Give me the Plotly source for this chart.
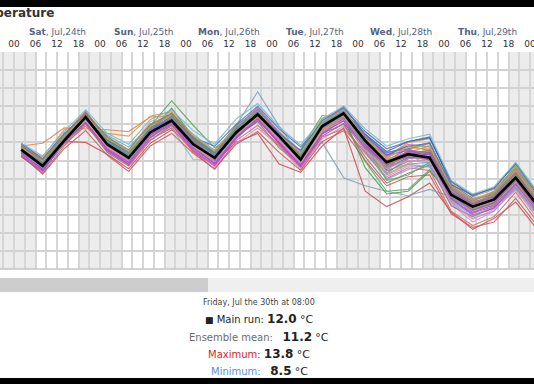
import plotly.graph_objects as go

W, H = 534, 384
PLOT_TOP, PLOT_BOT = 52, 269

# ---------------- data ----------------
times = ["2021-07-24 02:00", "2021-07-24 08:00", "2021-07-24 14:00", "2021-07-24 20:00",
         "2021-07-25 02:00", "2021-07-25 08:00", "2021-07-25 14:00", "2021-07-25 20:00",
         "2021-07-26 02:00", "2021-07-26 08:00", "2021-07-26 14:00", "2021-07-26 20:00",
         "2021-07-27 02:00", "2021-07-27 08:00", "2021-07-27 14:00", "2021-07-27 20:00",
         "2021-07-28 02:00", "2021-07-28 08:00", "2021-07-28 14:00", "2021-07-28 20:00",
         "2021-07-29 02:00", "2021-07-29 08:00", "2021-07-29 14:00", "2021-07-29 20:00",
         "2021-07-30 02:00", "2021-07-30 08:00"]

main_run = [17.2, 15.4, 18.2, 20.8, 17.8, 16.3, 19.1, 20.4, 17.8, 16.3, 19.1, 21.1, 18.7, 16.1,
            19.8, 21.2, 18.2, 15.8, 16.7, 16.3, 12.2, 10.9, 11.7, 14.1, 11.1, 12.0]

ens_01 = [17.6, 17.9, 19.6, 19.5, 19.4, 19.2, 20.8, 21.0, 18.3, 17.2, 19.6, 20.6, 18.9, 16.8, 19.4, 20.7, 17.6, 15.1, 17.2, 17.9, 13.1, 11.6, 12.4, 14.6, 11.8, 12.6]
ens_02 = [17.4, 16.4, 19.4, 20.2, 19.0, 18.7, 20.9, 21.4, 18.7, 16.9, 19.3, 21.0, 18.2, 16.2, 19.0, 20.9, 18.9, 16.4, 18.0, 18.4, 13.6, 12.0, 12.8, 15.2, 12.3, 13.1]
ens_03 = [16.9, 15.2, 18.1, 18.0, 16.7, 15.1, 17.9, 19.4, 17.4, 15.9, 18.0, 19.0, 15.6, 14.7, 17.6, 19.6, 12.6, 10.9, 12.0, 13.5, 10.3, 8.4, 9.6, 11.4, 8.4, 8.5]
ens_04 = [17.0, 15.6, 18.6, 21.0, 17.9, 16.7, 19.8, 22.6, 19.9, 17.4, 18.9, 20.5, 18.3, 17.2, 21.0, 20.5, 15.9, 12.6, 12.8, 15.0, 11.8, 10.5, 11.2, 13.3, 10.9, 11.6]
ens_05 = [16.7, 15.0, 18.4, 21.3, 18.0, 16.1, 18.8, 20.0, 17.4, 16.1, 19.9, 23.6, 19.8, 16.5, 18.0, 14.1, 13.2, 12.6, 12.1, 12.8, 12.0, 10.6, 11.0, 12.8, 10.0, 11.0]
ens_06 = [17.3, 15.5, 18.7, 21.4, 18.6, 17.0, 18.5, 19.6, 16.1, 16.0, 19.3, 21.5, 19.2, 17.0, 19.5, 21.7, 18.5, 15.4, 16.0, 15.8, 11.6, 10.1, 11.3, 13.5, 10.5, 11.3]
ens_07 = [17.5, 15.8, 18.9, 21.2, 17.5, 16.1, 19.3, 20.9, 18.1, 16.6, 19.5, 21.5, 18.5, 15.8, 19.2, 20.4, 17.0, 14.6, 16.2, 16.8, 12.5, 11.2, 12.0, 14.5, 11.4, 12.3]
ens_08 = [16.6, 14.9, 17.9, 20.3, 17.2, 15.6, 18.8, 20.1, 17.0, 15.4, 18.4, 20.7, 17.9, 15.3, 18.7, 20.1, 17.5, 16.0, 17.3, 16.0, 12.1, 10.3, 11.1, 13.6, 10.8, 11.7]
ens_09 = [17.8, 15.9, 18.4, 20.5, 18.3, 16.8, 19.6, 20.8, 18.5, 17.6, 20.0, 22.0, 19.5, 17.5, 20.1, 21.8, 19.2, 17.3, 18.1, 18.6, 13.4, 11.8, 12.2, 15.0, 12.0, 12.9]
ens_10 = [16.8, 15.1, 18.0, 20.0, 17.0, 15.8, 18.6, 19.8, 17.3, 15.3, 17.9, 19.6, 17.6, 15.0, 18.4, 19.8, 16.8, 14.2, 15.4, 15.3, 11.2, 9.2, 10.4, 12.9, 9.6, 10.5]
ens_11 = [17.1, 15.3, 18.8, 21.5, 18.1, 16.5, 19.0, 20.7, 18.4, 16.9, 19.4, 21.2, 19.0, 16.9, 20.7, 21.5, 18.7, 15.6, 16.5, 17.0, 12.8, 11.5, 12.5, 14.9, 11.5, 12.4]
ens_12 = [17.7, 16.0, 18.5, 20.6, 18.8, 17.5, 19.9, 21.1, 18.9, 17.1, 19.8, 21.8, 19.1, 16.6, 20.3, 21.0, 18.0, 14.9, 15.6, 15.8, 11.9, 10.4, 11.6, 14.0, 11.0, 11.8]
ens_13 = [16.5, 14.6, 17.6, 20.1, 16.9, 15.4, 18.2, 19.9, 17.2, 15.7, 18.7, 20.3, 17.4, 15.5, 19.0, 20.0, 16.4, 13.5, 14.6, 15.5, 11.0, 9.8, 10.8, 13.0, 10.2, 10.9]
ens_14 = [17.0, 15.3, 18.3, 20.7, 17.6, 16.0, 19.2, 21.8, 18.6, 16.5, 19.7, 21.6, 18.4, 16.3, 20.2, 20.8, 15.2, 12.3, 12.6, 14.8, 12.4, 11.0, 11.5, 13.8, 10.6, 11.4]
ens_15 = [17.3, 15.6, 18.1, 20.4, 17.7, 15.9, 18.9, 20.2, 17.9, 16.2, 18.8, 20.9, 18.1, 16.0, 19.6, 20.8, 18.4, 16.8, 17.6, 17.1, 13.0, 11.4, 12.1, 14.7, 11.3, 12.2]
ens_16 = [17.9, 16.2, 19.0, 21.0, 18.2, 16.6, 19.4, 20.6, 18.2, 16.8, 19.2, 20.8, 18.8, 16.4, 19.3, 21.4, 18.9, 17.0, 18.1, 18.5, 13.7, 12.1, 13.0, 15.6, 12.2, 13.4]
ens_17 = [16.4, 14.8, 18.0, 20.6, 17.1, 15.5, 18.5, 20.3, 17.6, 15.6, 18.6, 20.4, 18.0, 15.4, 19.1, 21.0, 17.8, 15.5, 16.9, 16.6, 11.8, 10.0, 10.7, 13.4, 10.5, 11.2]
ens_18 = [17.4, 15.0, 18.5, 21.2, 18.4, 16.9, 19.5, 20.5, 18.0, 16.4, 19.0, 20.9, 18.6, 15.7, 19.5, 21.3, 17.3, 14.8, 15.9, 16.1, 12.3, 10.8, 11.8, 14.3, 11.2, 11.9]
ens_19 = [17.2, 15.7, 18.9, 20.9, 18.5, 17.1, 20.3, 21.3, 18.8, 16.9, 19.7, 21.4, 19.3, 16.7, 19.9, 21.5, 18.6, 16.3, 17.4, 17.3, 13.3, 11.7, 12.6, 15.3, 11.9, 12.8]
ens_20 = [16.9, 15.2, 17.8, 19.8, 17.4, 15.7, 18.3, 19.6, 17.0, 15.0, 18.2, 19.9, 17.7, 15.2, 18.6, 19.5, 16.9, 14.0, 15.2, 14.9, 10.4, 8.8, 9.8, 12.5, 9.2, 10.0]
ens_21 = [17.6, 15.9, 18.6, 20.9, 17.9, 16.4, 19.4, 20.7, 18.2, 16.0, 19.1, 21.2, 18.9, 16.2, 20.0, 21.1, 17.9, 15.2, 16.3, 16.8, 12.6, 11.1, 11.9, 14.4, 11.1, 12.1]
ens_22 = [16.8, 15.4, 18.2, 20.4, 17.3, 16.2, 19.0, 20.3, 17.5, 16.2, 18.9, 20.6, 18.3, 15.9, 19.1, 20.6, 17.2, 13.9, 15.0, 15.6, 11.4, 9.6, 10.4, 13.2, 10.1, 10.8]
ens_23 = [17.5, 15.6, 18.4, 21.1, 18.7, 16.8, 19.7, 21.0, 18.7, 16.7, 19.6, 21.3, 18.7, 16.5, 19.8, 21.6, 18.3, 15.9, 17.0, 16.9, 12.7, 11.3, 12.3, 15.5, 11.7, 12.5]
ens_24 = [17.0, 15.5, 18.5, 20.6, 17.6, 16.0, 18.7, 20.0, 17.7, 16.3, 19.3, 21.0, 18.4, 16.0, 19.6, 21.0, 17.7, 15.0, 16.4, 16.2, 12.0, 10.5, 11.4, 13.7, 10.7, 11.5]
ens_25 = [16.7, 15.0, 18.2, 20.3, 17.5, 16.0, 18.9, 20.1, 17.4, 15.8, 18.8, 20.5, 18.2, 15.6, 19.4, 20.7, 18.0, 16.2, 16.8, 16.5, 11.9, 10.6, 11.5, 14.2, 10.9, 11.8]
ens_26 = [17.3, 15.9, 18.7, 20.7, 18.0, 16.6, 19.2, 20.8, 18.3, 16.7, 19.7, 21.3, 18.6, 16.6, 20.5, 21.3, 18.5, 16.1, 16.9, 17.6, 13.2, 11.5, 12.6, 15.4, 12.1, 13.0]
ens_27 = [16.9, 15.1, 18.3, 20.9, 17.8, 16.5, 19.3, 20.5, 17.9, 16.5, 19.4, 21.7, 18.9, 16.3, 19.7, 21.0, 17.4, 14.4, 15.6, 15.3, 11.5, 9.9, 10.9, 13.1, 10.3, 11.1]
ens_28 = [17.1, 15.4, 18.6, 21.4, 18.2, 16.2, 19.5, 21.2, 18.5, 16.6, 19.5, 21.9, 19.1, 16.8, 20.1, 22.0, 18.8, 16.5, 17.8, 17.5, 12.9, 11.3, 12.2, 14.8, 11.6, 12.5]
ens_29 = [17.6, 15.7, 18.4, 20.2, 17.6, 16.4, 19.0, 20.6, 18.1, 16.3, 18.9, 20.9, 18.5, 15.9, 19.2, 20.6, 17.2, 15.3, 16.6, 16.4, 12.0, 10.7, 11.3, 14.0, 11.0, 11.6]
ens_30 = [17.4, 15.8, 18.8, 21.1, 18.3, 16.9, 19.6, 21.2, 18.6, 16.8, 19.9, 21.4, 19.0, 17.1, 20.4, 21.9, 18.9, 16.6, 17.6, 17.9, 13.3, 12.2, 12.9, 15.7, 12.5, 13.8]
ens_31 = [17.9, 16.5, 19.2, 21.6, 19.0, 17.8, 20.5, 21.6, 19.3, 17.8, 20.6, 22.3, 19.7, 17.7, 20.6, 22.0, 19.5, 17.6, 18.4, 18.9, 13.8, 12.3, 13.1, 15.8, 12.6, 13.5]
ens_32 = [16.6, 14.5, 17.3, 19.3, 16.6, 14.8, 17.6, 19.0, 16.8, 15.1, 17.8, 19.2, 16.9, 14.9, 18.1, 19.3, 16.0, 13.2, 14.2, 14.4, 10.1, 8.6, 9.2, 11.8, 8.8, 9.4]
ens_33 = [17.0, 15.4, 18.4, 20.5, 17.9, 16.4, 19.4, 20.6, 18.0, 16.0, 19.0, 20.8, 18.4, 15.9, 19.6, 21.4, 18.1, 16.6, 17.1, 16.9, 12.4, 10.9, 11.6, 14.3, 11.1, 12.0]
ens_34 = [17.5, 15.5, 18.3, 20.4, 17.5, 16.2, 19.0, 20.1, 17.6, 16.1, 19.1, 20.7, 18.2, 15.9, 19.3, 20.9, 17.3, 14.5, 15.7, 16.6, 12.2, 10.4, 11.2, 13.6, 10.6, 11.5]
ens_35 = [17.2, 15.6, 18.5, 20.9, 18.1, 16.6, 19.9, 21.1, 18.3, 16.7, 19.6, 21.2, 18.9, 16.6, 20.3, 21.2, 17.8, 13.8, 14.4, 15.8, 11.9, 10.7, 11.7, 14.4, 11.2, 12.1]
ens_36 = [16.9, 15.0, 18.0, 20.2, 17.2, 15.6, 18.6, 20.0, 17.1, 15.5, 18.5, 20.6, 17.8, 15.4, 18.9, 20.6, 17.6, 15.7, 16.4, 16.1, 11.7, 10.2, 10.9, 13.4, 10.4, 11.3]
ens_37 = [17.3, 15.7, 18.6, 20.8, 18.0, 16.5, 19.2, 20.9, 18.4, 16.6, 19.5, 21.6, 19.0, 16.5, 19.9, 21.5, 18.6, 16.9, 17.3, 18.0, 13.1, 11.6, 12.4, 15.1, 11.8, 12.7]
ens_38 = [16.7, 15.3, 18.2, 20.4, 17.4, 15.9, 18.7, 20.3, 17.5, 15.8, 18.7, 20.9, 18.3, 15.7, 19.2, 20.5, 17.1, 15.1, 16.0, 15.9, 11.3, 9.5, 10.6, 12.7, 9.9, 10.7]
ens_39 = [17.4, 15.9, 18.7, 21.0, 18.4, 17.0, 19.7, 21.1, 18.7, 17.0, 19.8, 21.5, 18.8, 16.8, 20.2, 21.6, 18.4, 16.3, 17.5, 17.6, 13.1, 11.6, 12.5, 15.0, 11.9, 12.8]
ens_40 = [17.1, 15.2, 18.4, 20.6, 17.7, 16.1, 19.1, 20.4, 17.8, 16.2, 19.0, 20.9, 18.5, 16.0, 19.5, 20.9, 17.5, 15.2, 16.2, 16.3, 12.0, 10.6, 11.5, 13.9, 10.8, 11.6]
ens_41 = [17.6, 16.1, 18.9, 21.3, 18.6, 17.2, 20.0, 21.2, 18.5, 16.9, 19.3, 21.0, 18.7, 16.4, 19.7, 21.3, 18.1, 15.5, 16.6, 17.2, 12.8, 11.2, 12.1, 14.6, 11.5, 12.3]
ens_42 = [16.8, 15.0, 18.1, 20.2, 17.3, 15.8, 18.8, 20.2, 17.4, 15.7, 18.6, 20.6, 18.0, 15.5, 19.0, 20.4, 17.4, 15.7, 17.0, 16.7, 12.2, 10.5, 11.3, 13.9, 10.7, 11.6]

ensemble = [ens_01, ens_02, ens_03, ens_04, ens_05, ens_06, ens_07, ens_08, ens_09, ens_10,
            ens_11, ens_12, ens_13, ens_14, ens_15, ens_16, ens_17, ens_18, ens_19, ens_20,
            ens_21, ens_22, ens_23, ens_24, ens_25, ens_26, ens_27, ens_28, ens_29, ens_30,
            ens_31, ens_32, ens_33, ens_34, ens_35, ens_36, ens_37, ens_38, ens_39, ens_40,
            ens_41, ens_42]

ens_colors = ["#dd8452", "#e0913a", "#c44e52", "#55a868", "#7f9db9", "#9db4c8", "#8172b3", "#b238c9",
              "#4c72b0", "#da8bc3", "#b5a84e", "#64b5cd", "#937860", "#4f9a3f", "#9467bd", "#3f63a8",
              "#c03ad0", "#8c8c8c", "#e8a060", "#d46a6a", "#a64bc4", "#6fa8d6", "#6bb86b", "#5577bb",
              "#e07cc0", "#a9a34f", "#8a9fc0", "#cf6fb5", "#a0785a", "#4a6fc0",
              "#72b8d8", "#c85a5a", "#8a5cc0", "#e39a5a", "#5fae5f", "#c64fd0", "#5a7fc8", "#e491c8",
              "#b0aa5a", "#999999", "#9a7a60", "#9b59c6"]

day_noon = ["2021-07-24 12:00", "2021-07-25 12:00", "2021-07-26 12:00",
            "2021-07-27 12:00", "2021-07-28 12:00", "2021-07-29 12:00"]
day_names = ["Sat", "Sun", "Mon", "Tue", "Wed", "Thu"]
day_dates = ["Jul,24th", "Jul,25th", "Jul,26th", "Jul,27th", "Jul,28th", "Jul,29th"]
day_starts = ["2021-07-24", "2021-07-25", "2021-07-26", "2021-07-27",
              "2021-07-28", "2021-07-29", "2021-07-30"]
night_starts = ["2021-07-23 18:00", "2021-07-24 18:00", "2021-07-25 18:00", "2021-07-26 18:00",
                "2021-07-27 18:00", "2021-07-28 18:00", "2021-07-29 18:00"]
night_ends = ["2021-07-24 06:00", "2021-07-25 06:00", "2021-07-26 06:00", "2021-07-27 06:00",
              "2021-07-28 06:00", "2021-07-29 06:00", "2021-07-30 06:00"]

tip_time = "Friday, Jul the 30th at 08:00"
tip_main, tip_mean, tip_max, tip_min = 12.0, 11.2, 13.8, 8.5

X_RANGE = ["2021-07-23 20:05:35", "2021-07-30 01:07:00"]
Y_RANGE = [4, 28]


def px_x(x):
    return x / W


def px_y(y):
    return (PLOT_BOT - y) / (PLOT_BOT - PLOT_TOP)


fig = go.Figure()
for vals, col in zip(ensemble, ens_colors):
    fig.add_trace(go.Scatter(x=times, y=vals, mode="lines", line=dict(color=col, width=1.15),
                             opacity=0.85, hoverinfo="skip", showlegend=False))
fig.add_trace(go.Scatter(x=times, y=main_run, mode="lines", line=dict(color="#000000", width=2.6),
                         hoverinfo="skip", showlegend=False))

shapes = []
for s, e in zip(night_starts, night_ends):
    shapes.append(dict(type="rect", xref="x", yref="paper", x0=s, x1=e, y0=0, y1=1,
                       fillcolor="#ececec", line=dict(width=0), layer="below"))
for d in day_starts:
    shapes.append(dict(type="line", xref="x", yref="paper", x0=d, x1=d, y0=0, y1=1,
                       line=dict(color="#ababab", width=1.3), layer="below"))
shapes.append(dict(type="line", xref="paper", yref="paper", x0=0, x1=1, y0=0, y1=0,
                   line=dict(color="#c4c4c4", width=1.5)))
# scrollbar
shapes.append(dict(type="rect", xref="paper", yref="paper", x0=0, x1=1, y0=px_y(292), y1=px_y(278),
                   fillcolor="#efefef", line=dict(width=0)))
shapes.append(dict(type="rect", xref="paper", yref="paper", x0=0, x1=px_x(208), y0=px_y(292), y1=px_y(278),
                   fillcolor="#cdcdcd", line=dict(width=0)))
# black frame bars
shapes.append(dict(type="rect", xref="paper", yref="paper", x0=0, x1=1, y0=px_y(7), y1=px_y(-2),
                   fillcolor="#000000", line=dict(width=0)))
shapes.append(dict(type="rect", xref="paper", yref="paper", x0=0, x1=1, y0=px_y(386), y1=px_y(378),
                   fillcolor="#000000", line=dict(width=0)))

ann = []
ann.append(dict(text="<b>Temperature</b>", xref="paper", yref="paper", x=px_x(56), y=px_y(13),
                xanchor="right", yanchor="middle", showarrow=False,
                font=dict(size=12, color="#333333", family="DejaVu Sans")))
for t, n, d in zip(day_noon, day_names, day_dates):
    ann.append(dict(text=f"<b>{n}</b>, {d}", xref="x", yref="paper", x=t, y=px_y(32),
                    xanchor="center", yanchor="middle", showarrow=False,
                    font=dict(size=9, color="#56647c", family="DejaVu Sans")))

NB = "\u00a0"
val = lambda v: f"<span style='font-size:12px'><b>{v:.1f}</b></span>{NB}<span style='font-size:11px'>°C</span>"
rows = [
    (302, f"<span style='color:#444'>{tip_time}</span>", 8),
    (319, f"<span style='font-size:9px'>■</span>{NB}Main run:{NB}" + val(tip_main), 10),
    (337, f"<span style='color:#6b6b6b'>Ensemble mean:</span>{NB}{NB}{NB}" + val(tip_mean), 10),
    (354, f"<span style='color:#d42a2a'>Maximum:</span>{NB}" + val(tip_max), 10),
    (371, f"<span style='color:#5b8fcf'>Minimum:</span>{NB}{NB}{NB}" + val(tip_min), 10),
]
for y, txt, sz in rows:
    ann.append(dict(text=txt, xref="paper", yref="paper", x=px_x(259), y=px_y(y),
                    xanchor="center", yanchor="middle", showarrow=False,
                    font=dict(size=sz, color="#222222", family="DejaVu Sans")))

fig.update_layout(
    template="none",
    width=W, height=H,
    margin=dict(l=0, r=0, t=PLOT_TOP, b=H - PLOT_BOT, pad=0, autoexpand=False),
    paper_bgcolor="#ffffff", plot_bgcolor="#ffffff",
    showlegend=False, hovermode=False,
    shapes=shapes, annotations=ann,
    xaxis=dict(type="date", range=X_RANGE, side="top", automargin=False,
               tick0="2021-07-24 00:00", dtick=6 * 3600 * 1000, tickformat="%H",
               ticks="", showticklabels=True, ticklabelstandoff=2, ticklabeloverflow="allow",
               tickfont=dict(size=9, color="#333333", family="DejaVu Sans"),
               showgrid=True, gridcolor="#d6d6d6", gridwidth=1.5,
               minor=dict(tick0="2021-07-24 00:00", dtick=3 * 3600 * 1000, showgrid=True,
                          gridcolor="#d6d6d6", gridwidth=1.5),
               zeroline=False, showline=False, fixedrange=True),
    yaxis=dict(range=Y_RANGE, dtick=2, showticklabels=False, automargin=False,
               showgrid=True, gridcolor="#d2d2d2", gridwidth=1.5,
               zeroline=False, showline=False, ticks="", fixedrange=True),
)

fig.write_html("out.html", config={"displayModeBar": False},
               post_script="document.body.style.margin='0';document.body.style.overflow='hidden';")
